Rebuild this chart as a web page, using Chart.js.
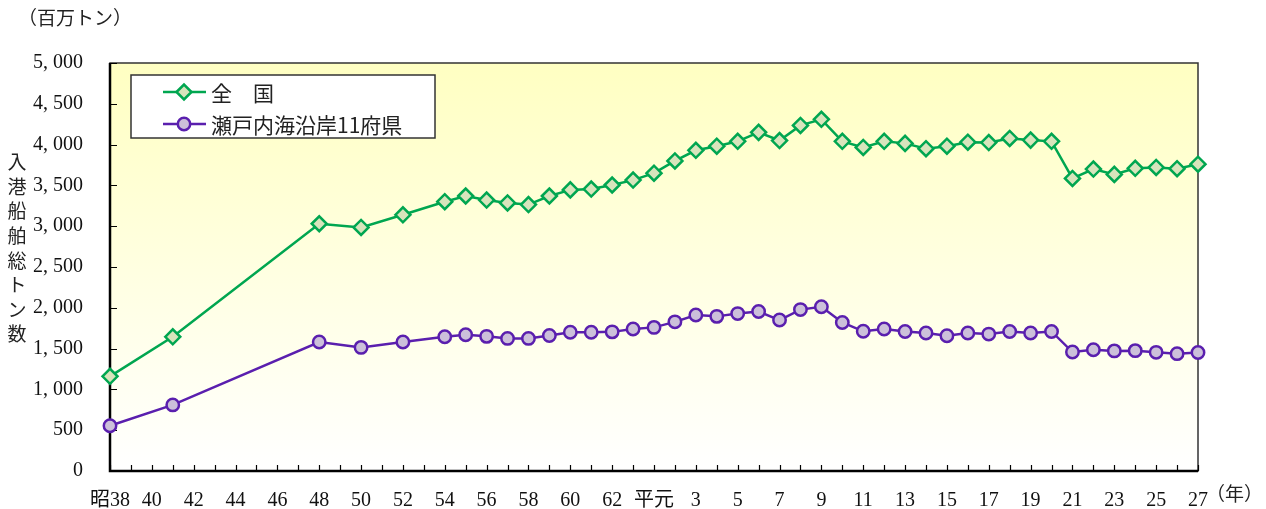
<!DOCTYPE html>
<html>
<head>
<meta charset="utf-8">
<script src="https://cdn.jsdelivr.net/npm/chart.js@4.4.1/dist/chart.umd.min.js"></script>
<style>
	html, body { margin: 0; padding: 0; background: #fff; }
	#wrap { width: 1266px; height: 509px; position: relative; }
</style>
</head>
<body>
<div id="wrap"><canvas id="chart"></canvas></div>
<script>
// x axis: one slot per year, 昭和38年 .. 平成27年
const years = [
	'昭38', '39', '40', '41', '42', '43', '44', '45', '46', '47', '48', '49', '50',
	'51', '52', '53', '54', '55', '56', '57', '58', '59', '60', '61', '62', '63',
	'平元', '2', '3', '4', '5', '6', '7', '8', '9', '10', '11', '12', '13', '14',
	'15', '16', '17', '18', '19', '20', '21', '22', '23', '24', '25', '26', '27'
];

// years that actually have a value
const dataYears = [
	'昭38', '41', '48', '50', '52',
	'54', '55', '56', '57', '58', '59', '60', '61', '62', '63',
	'平元', '2', '3', '4', '5', '6', '7', '8', '9', '10', '11', '12', '13', '14',
	'15', '16', '17', '18', '19', '20', '21', '22', '23', '24', '25', '26', '27'
];

const zenkoku = [
	1160, 1645, 3030, 2985, 3140,
	3300, 3370, 3320, 3285, 3265, 3370, 3445, 3455, 3505, 3565,
	3650, 3800, 3930, 3980, 4040, 4150, 4050, 4235, 4310, 4040, 3965, 4040, 4015, 3950,
	3980, 4030, 4025, 4075, 4055, 4040, 3585, 3700, 3635, 3710, 3720, 3705, 3760
];

const setouchi = [
	555, 810, 1580, 1515, 1580,
	1645, 1670, 1650, 1625, 1625, 1660, 1700, 1700, 1705, 1740,
	1760, 1828, 1912, 1895, 1929, 1955, 1850, 1978, 2012, 1820, 1712, 1740, 1710, 1692,
	1658, 1692, 1678, 1710, 1692, 1710, 1458, 1485, 1472, 1475, 1454, 1438, 1452
];

const yTicks = [0, 500, 1000, 1500, 2000, 2500, 3000, 3500, 4000, 4500, 5000];

const seriesNames = ['全\u3000国', '瀬戸内海沿岸11府県'];
const yTitle = '入港船舶総トン数';
const unitLabel = '（百万トン）';
const yearLabel = '（年）';

const GREEN = '#00A650';
const GREEN_FILL = '#D8E4BC';
const PURPLE = '#5A1FAE';
const PURPLE_FILL = '#CCC0DA';
const NUM_FONT = "'Liberation Serif', 'Noto Sans CJK JP', serif";
const JP_FONT = "'Noto Sans CJK JP', sans-serif";

function toPoints(values) {
	return dataYears.map((y, i) => ({ x: y, y: values[i] }));
}

const framePlugin = {
	id: 'frame',
	beforeDraw(chart) {
		const { ctx, chartArea: a } = chart;
		ctx.save();
		ctx.fillStyle = '#fff';
		ctx.fillRect(0, 0, chart.width, chart.height);
		const g = ctx.createLinearGradient(0, a.top, 0, a.bottom);
		g.addColorStop(0, '#FFFFC2');
		g.addColorStop(1, '#FFFFFF');
		ctx.fillStyle = g;
		ctx.fillRect(a.left, a.top, a.right - a.left, a.bottom - a.top);
		ctx.restore();
	},
	beforeDatasetsDraw(chart) {
		const { ctx, chartArea: a } = chart;
		const xs = chart.scales.x;
		const ys = chart.scales.y;
		ctx.save();
		// thin frame
		ctx.strokeStyle = '#333';
		ctx.lineWidth = 1.5;
		ctx.strokeRect(a.left, a.top, a.right - a.left, a.bottom - a.top);
		// inward tick marks
		ctx.strokeStyle = '#000';
		ctx.lineWidth = 1.2;
		ctx.beginPath();
		years.forEach((y, i) => {
			const px = Math.round(xs.getPixelForValue(i)) + 0.5;
			ctx.moveTo(px, a.bottom);
			ctx.lineTo(px, a.bottom - 6);
		});
		yTicks.forEach((v) => {
			const py = Math.round(ys.getPixelForValue(v)) + 0.5;
			ctx.moveTo(a.left, py);
			ctx.lineTo(a.left + 7, py);
		});
		ctx.stroke();
		// axes
		ctx.lineWidth = 2.5;
		ctx.beginPath();
		ctx.moveTo(a.left, a.top);
		ctx.lineTo(a.left, a.bottom);
		ctx.lineTo(a.right, a.bottom);
		ctx.stroke();
		ctx.restore();
	},
	afterDraw(chart) {
		const { ctx, chartArea: a } = chart;
		ctx.save();
		ctx.fillStyle = '#222';
		ctx.textBaseline = 'middle';

		// unit and year labels
		ctx.font = '19px ' + JP_FONT;
		ctx.textAlign = 'left';
		ctx.fillText(unitLabel, 18, 18);
		ctx.fillText(yearLabel, a.right + 8, 494);

		// vertical axis title, one char per row
		ctx.textAlign = 'center';
		yTitle.split('').forEach((ch, i) => {
			ctx.fillText(ch, 17, 162 + i * 24.6);
		});

		// legend box
		const bx = a.left + 21;
		const by = a.top + 12;
		ctx.fillStyle = '#fff';
		ctx.fillRect(bx, by, 304, 63);
		ctx.strokeStyle = '#333';
		ctx.lineWidth = 1.5;
		ctx.strokeRect(bx, by, 304, 63);

		chart.data.datasets.forEach((ds, i) => {
			const y = by + 17 + i * 32;
			ctx.strokeStyle = ds.borderColor;
			ctx.lineWidth = ds.borderWidth;
			ctx.beginPath();
			ctx.moveTo(bx + 32, y);
			ctx.lineTo(bx + 75, y);
			ctx.stroke();
			ctx.fillStyle = ds.pointBackgroundColor;
			ctx.strokeStyle = ds.pointBorderColor;
			ctx.lineWidth = ds.pointBorderWidth;
			Chart.helpers.drawPoint(ctx, {
				pointStyle: ds.pointStyle,
				radius: ds.radius,
				rotation: 0,
				borderWidth: ds.pointBorderWidth
			}, bx + 53, y);
			ctx.fillStyle = '#222';
			ctx.font = '21px ' + JP_FONT;
			ctx.textAlign = 'left';
			ctx.fillText(ds.label, bx + 80, y + 1);
		});
		ctx.restore();
	}
};

const ctx = document.getElementById('chart').getContext('2d');
new Chart(ctx, {
	type: 'line',
	data: {
		labels: years,
		datasets: [
			{
				label: seriesNames[0],
				data: toPoints(zenkoku),
				borderColor: GREEN,
				borderWidth: 2.5,
				pointStyle: 'rectRot',
				radius: 7.5,
				pointBackgroundColor: GREEN_FILL,
				pointBorderColor: GREEN,
				pointBorderWidth: 2.5,
				tension: 0
			},
			{
				label: seriesNames[1],
				data: toPoints(setouchi),
				borderColor: PURPLE,
				borderWidth: 2.5,
				pointStyle: 'circle',
				radius: 6.2,
				pointBackgroundColor: PURPLE_FILL,
				pointBorderColor: PURPLE,
				pointBorderWidth: 2.5,
				tension: 0
			}
		]
	},
	options: {
		responsive: true,
		maintainAspectRatio: false,
		devicePixelRatio: 1,
		animation: false,
		layout: { padding: { top: 63, right: 68, bottom: 0, left: 0 } },
		plugins: {
			legend: { display: false },
			tooltip: { enabled: false }
		},
		scales: {
			x: {
				type: 'category',
				offset: false,
				grid: { display: false },
				border: { display: false },
				ticks: {
					autoSkip: false,
					maxRotation: 0,
					padding: 10,
					color: '#111',
					font: { family: NUM_FONT, size: 20 },
					callback: function (value, index) {
						return index % 2 === 0 ? this.getLabelForValue(value) : '';
					}
				},
				afterFit(scale) {
					scale.height = 38;
				}
			},
			y: {
				min: 0,
				max: 5000,
				grid: { display: false },
				border: { display: false },
				ticks: {
					stepSize: 500,
					padding: 19,
					color: '#111',
					font: { family: NUM_FONT, size: 20 },
					callback: (v) => v.toLocaleString('en-US').replace(',', ', ')
				},
				afterFit(scale) {
					scale.width = 110;
				}
			}
		}
	},
	plugins: [framePlugin]
});
</script>
</body>
</html>
